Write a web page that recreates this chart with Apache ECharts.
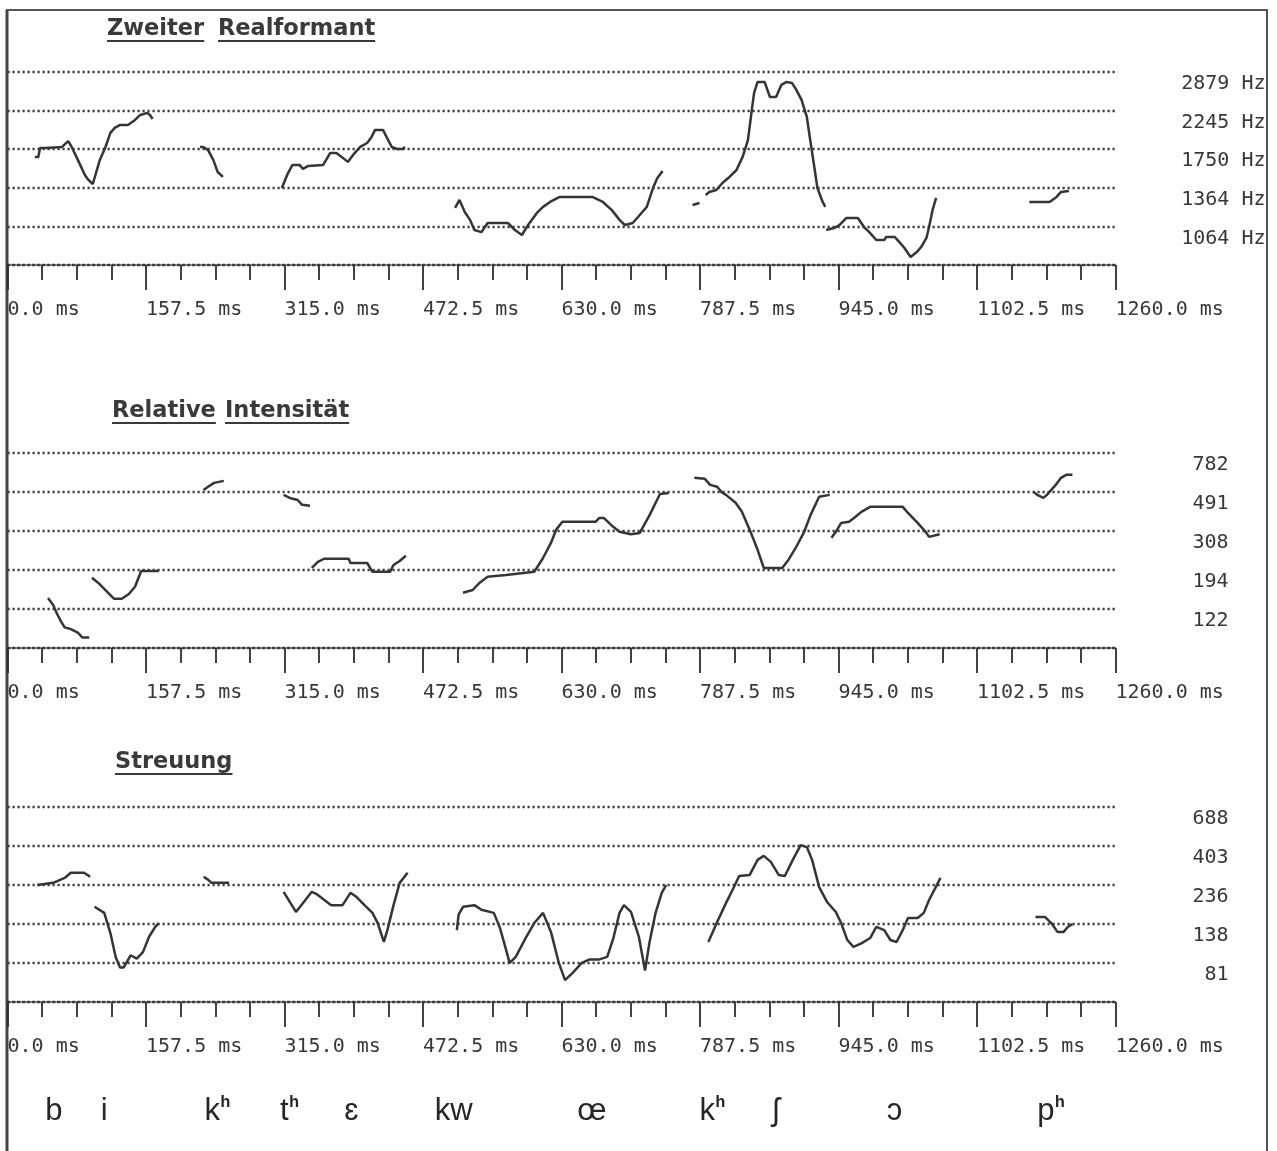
<!DOCTYPE html>
<html><head><meta charset="utf-8">
<script src="https://cdn.jsdelivr.net/npm/echarts@6/dist/echarts.min.js"></script>
<style>html,body{margin:0;padding:0;background:#fff}#c{width:1277px;height:1151px}</style>
</head><body><div id="c"></div>
<script>
// ---------- data ----------
const timeTicks = [0, 157.5, 315, 472.5, 630, 787.5, 945, 1102.5, 1260];
const timeTickLabels = ['0.0 ms','157.5 ms','315.0 ms','472.5 ms','630.0 ms','787.5 ms','945.0 ms','1102.5 ms','1260.0 ms'];

const formantTickValues = [2879, 2245, 1750, 1364, 1064];
const formantTickLabels = ['2879 Hz','2245 Hz','1750 Hz','1364 Hz','1064 Hz'];
const intensityTickValues = [782, 491, 308, 194, 122];
const intensityTickLabels = ['782','491','308','194','122'];
const spreadTickValues = [688, 403, 236, 138, 81];
const spreadTickLabels = ['688','403','236','138','81'];

const formantRange = [830, 2879];
const intensityRange = [76.7, 782];
const spreadRange = [47.4, 688];

const panelTitles = [['Zweiter','Realformant'], ['Relative','Intensität'], ['Streuung']];

const phonemes = ['b','i','kʰ','tʰ','ɛ','kw','œ','kʰ','ʃ','ɔ','pʰ'];
const phonemeTimes = [43, 106, 224, 310, 383, 486, 648, 787, 870, 1000, 1171];

// [ms, Hz]
const formantSegments = [
  [[31,1666],[35,1666],[37,1764],[43,1764],[62,1776],[69,1845],[73,1776],[80,1634],[88,1483],[92,1436],[97,1399],[105,1634],[111,1764],[117,1944],[122,2008],[128,2047],[137,2047],[145,2114],[151,2183],[159,2212],[162,2183],[165,2127]],
  [[219,1776],[222,1776],[228,1742],[234,1634],[239,1511],[245,1464]],
  [[312,1363],[318,1483],[324,1582],[332,1582],[336,1542],[342,1572],[359,1582],[367,1709],[374,1709],[380,1666],[387,1613],[393,1687],[401,1776],[409,1822],[414,1895],[418,1982],[427,1982],[431,1895],[437,1776],[443,1753],[449,1753],[452,1776]],
  [[509,1199],[514,1262],[520,1168],[526,1110],[531,1040],[539,1026],[546,1088],[569,1088],[577,1040],[585,1007],[592,1074],[602,1161],[609,1207],[617,1246],[628,1287],[665,1287],[677,1246],[687,1184],[696,1110],[702,1074],[711,1088],[717,1131],[727,1207],[734,1363],[739,1455],[745,1521]],
  [[779,1222],[787,1238]],
  [[794,1303],[798,1329],[806,1346],[813,1408],[821,1464],[829,1531],[836,1666],[842,1857],[846,2212],[849,2516],[853,2700],[861,2700],[867,2452],[874,2452],[880,2649],[886,2700],[892,2683],[897,2567],[903,2406],[909,2155],[914,1776],[918,1531],[921,1363],[927,1246],[930,1207]],
  [[931,1040],[940,1053],[946,1074],[954,1124],[967,1124],[974,1060],[980,1026],[988,975],[997,975],[999,994],[1009,994],[1014,963],[1020,926],[1027,874],[1034,902],[1039,932],[1045,988],[1048,1060],[1052,1184],[1056,1279]],
  [[1162,1246],[1185,1246],[1193,1287],[1198,1329],[1207,1338]]
];

// [ms, relative intensity]
const intensitySegments = [
  [[46,139],[52,128],[56,116],[61,105],[65,98],[72,96],[80,92],[85,87],[93,87]],
  [[96,177],[103,167],[110,155],[117,144],[121,138],[130,138],[138,146],[145,159],[152,192],[172,192]],
  [[223,503],[228,523],[235,548],[246,561]],
  [[314,475],[321,458],[330,447],[335,422],[344,417]],
  [[346,199],[353,214],[360,222],[388,222],[390,211],[409,211],[415,190],[435,190],[439,206],[446,216],[453,230]],
  [[518,148],[529,153],[537,167],[546,179],[567,183],[599,190],[609,224],[618,268],[624,314],[631,345],[669,345],[673,361],[678,361],[687,330],[696,306],[709,297],[719,302],[730,372],[742,480],[752,485]],
  [[781,582],[793,575],[799,535],[807,523],[812,491],[817,475],[828,432],[835,390],[844,314],[853,247],[860,199],[881,199],[888,219],[897,256],[906,306],[913,372],[923,464],[935,475]],
  [[937,285],[942,306],[948,340],[957,345],[964,365],[971,388],[981,412],[1018,412],[1024,383],[1035,340],[1044,306],[1048,288],[1060,297]],
  [[1167,491],[1171,475],[1178,458],[1182,475],[1192,535],[1198,582],[1204,603],[1211,603]]
];

// [ms, Streuung]
const spreadSegments = [
  [[34,236],[52,243],[65,260],[72,279],[87,279],[94,264]],
  [[99,175],[110,161],[117,122],[123,88],[128,76],[132,76],[140,90],[147,86],[154,94],[161,116],[168,133],[172,140]],
  [[223,264],[228,254],[232,243],[252,243]],
  [[314,215],[328,163],[337,187],[346,215],[351,209],[357,198],[368,179],[381,179],[390,212],[397,200],[406,179],[415,161],[421,140],[428,108],[432,127],[439,179],[446,243],[455,279]],
  [[511,127],[513,157],[518,175],[531,179],[539,168],[553,161],[560,131],[567,97],[571,81],[578,88],[590,116],[599,140],[609,161],[618,124],[627,81],[634,64],[643,71],[653,81],[662,85],[673,85],[682,88],[689,114],[696,161],[701,179],[709,163],[718,116],[725,73],[730,107],[737,161],[744,212],[749,236]],
  [[797,108],[807,142],[817,184],[826,229],[832,267],[844,271],[853,333],[860,352],[868,324],[877,271],[884,267],[893,333],[902,408],[909,397],[915,333],[923,229],[932,187],[942,163],[948,140],[955,111],[962,101],[971,106],[981,114],[988,133],[997,127],[1004,111],[1011,108],[1018,127],[1024,150],[1035,150],[1042,161],[1048,192],[1055,226],[1061,260]],
  [[1169,152],[1180,152],[1187,140],[1194,124],[1201,124],[1206,133],[1211,138]]
];

// ---------- chart ----------
const chart = echarts.init(document.getElementById('c'), null, {renderer: 'canvas'});
const MONO = "'DejaVu Sans Mono', 'Liberation Mono', monospace";
const DOT = [2.2, 2.8];
const DOT_COLOR = '#3d3d3d';
const gridTops = [72, 453, 807];
const gridHeights = [193, 195, 195];

function nearestLabel(v, values, labels) {
  let best = 0, bd = Infinity;
  values.forEach((tv, i) => { const d = Math.abs(Math.log(v / tv)); if (d < bd) { bd = d; best = i; } });
  return labels[best];
}
function nearestLabelLinear(v) {
  let best = 0, bd = Infinity;
  timeTicks.forEach((t, i) => { const d = Math.abs(v - t); if (d < bd) { bd = d; best = i; } });
  return timeTickLabels[best];
}

const panels = [
  {range: formantRange, values: formantTickValues, labels: formantTickLabels, margin: 150, segs: formantSegments},
  {range: intensityRange, values: intensityTickValues, labels: intensityTickLabels, margin: 113, segs: intensitySegments},
  {range: spreadRange, values: spreadTickValues, labels: spreadTickLabels, margin: 113, segs: spreadSegments}
];

const grids = [], xAxes = [], yAxes = [], series = [];
panels.forEach((p, i) => {
  grids.push({left: 7.5, width: 1108, top: gridTops[i], height: gridHeights[i], containLabel: false});
  xAxes.push({
    type: 'value', gridIndex: i, min: 0, max: 1260, interval: 157.5,
    axisLine: {show: true, onZero: false, lineStyle: {color: DOT_COLOR, width: 2.4, type: DOT}},
    axisTick: {show: true, length: 25, lineStyle: {color: '#2e2e2e', width: 1.8}},
    minorTick: {show: true, splitNumber: 4, length: 15, lineStyle: {color: '#2e2e2e', width: 1.8}},
    splitLine: {show: false}, minorSplitLine: {show: false},
    axisLabel: {
      formatter: v => nearestLabelLinear(v),
      align: 'left', margin: 35, fontFamily: MONO, fontSize: 20, color: '#383838',
      showMinLabel: true, showMaxLabel: true
    }
  });
  yAxes.push({
    type: 'log', logBase: 10, gridIndex: i, position: 'right',
    min: p.range[0], max: p.range[1],
    axisLine: {show: false},
    axisTick: {show: false, customValues: p.values},
    splitLine: {show: true, lineStyle: {color: DOT_COLOR, width: 2.4, type: DOT}},
    axisLabel: {
      customValues: p.values,
      formatter: v => nearestLabel(v, p.values, p.labels),
      align: 'right', verticalAlign: 'top', lineHeight: 24, margin: p.margin,
      fontFamily: MONO, fontSize: 20, color: '#383838'
    }
  });
  p.segs.forEach(seg => series.push({
    type: 'line', xAxisIndex: i, yAxisIndex: i, data: seg,
    symbol: 'none', showSymbol: false, silent: true, clip: false,
    lineStyle: {color: '#353535', width: 2.5}
  }));
});

chart.setOption({
  backgroundColor: '#ffffff',
  animation: false,
  grid: grids, xAxis: xAxes, yAxis: yAxes, series: series
});

// ---------- graphic overlay: frame, titles, phoneme labels ----------
const mctx = document.createElement('canvas').getContext('2d');
function textWidth(str, font) { mctx.font = font; return mctx.measureText(str).width; }

const titleFont = "bold 22.5px 'DejaVu Sans'";
const titleWordX = [[107, 218], [112, 225], [115]];
const titleBaseY = [37, 419, 770];

const graphic = [];
graphic.push({type: 'rect', shape: {x: 7, y: 10, width: 1260, height: 1170},
  style: {fill: 'none', stroke: '#555', lineWidth: 2}, silent: true});
graphic.push({type: 'line', shape: {x1: 7, y1: 10, x2: 7, y2: 1160},
  style: {stroke: '#444', lineWidth: 3}, silent: true});

panelTitles.forEach((words, pi) => {
  words.forEach((w, wi) => {
    const x = titleWordX[pi][wi];
    const y = titleBaseY[pi];
    const wdt = textWidth(w, titleFont);
    graphic.push({type: 'text', x: x, y: y - 8, silent: true,
      style: {text: w, font: titleFont, fill: '#3a3a3a', align: 'left', verticalAlign: 'middle'}});
    graphic.push({type: 'line', silent: true, shape: {x1: x, y1: y + 4, x2: x + wdt, y2: y + 4},
      style: {stroke: '#3a3a3a', lineWidth: 2}});
  });
});

const PH_FONT = "'Liberation Sans', 'DejaVu Sans', sans-serif";
phonemes.forEach((ph, i) => {
  const x = chart.convertToPixel({xAxisIndex: 2}, phonemeTimes[i]);
  const base = ph.replace('ʰ', '');
  const text = ph.indexOf('ʰ') >= 0 ? `{n|${base}}{s|ʰ}` : `{n|${base}}`;
  graphic.push({type: 'text', x: x, y: 1111, silent: true,
    style: {text: text, align: 'left', verticalAlign: 'middle',
      rich: {
        n: {fontSize: 31, fontFamily: PH_FONT, fill: '#262626', lineHeight: 34},
        s: {fontSize: 24, fontFamily: PH_FONT, fontWeight: 'bold', fill: '#262626', verticalAlign: 'top', lineHeight: 34, padding: [0, 0, 0, 1]}
      }}});
});

chart.setOption({graphic: graphic});
</script>
</body></html>
